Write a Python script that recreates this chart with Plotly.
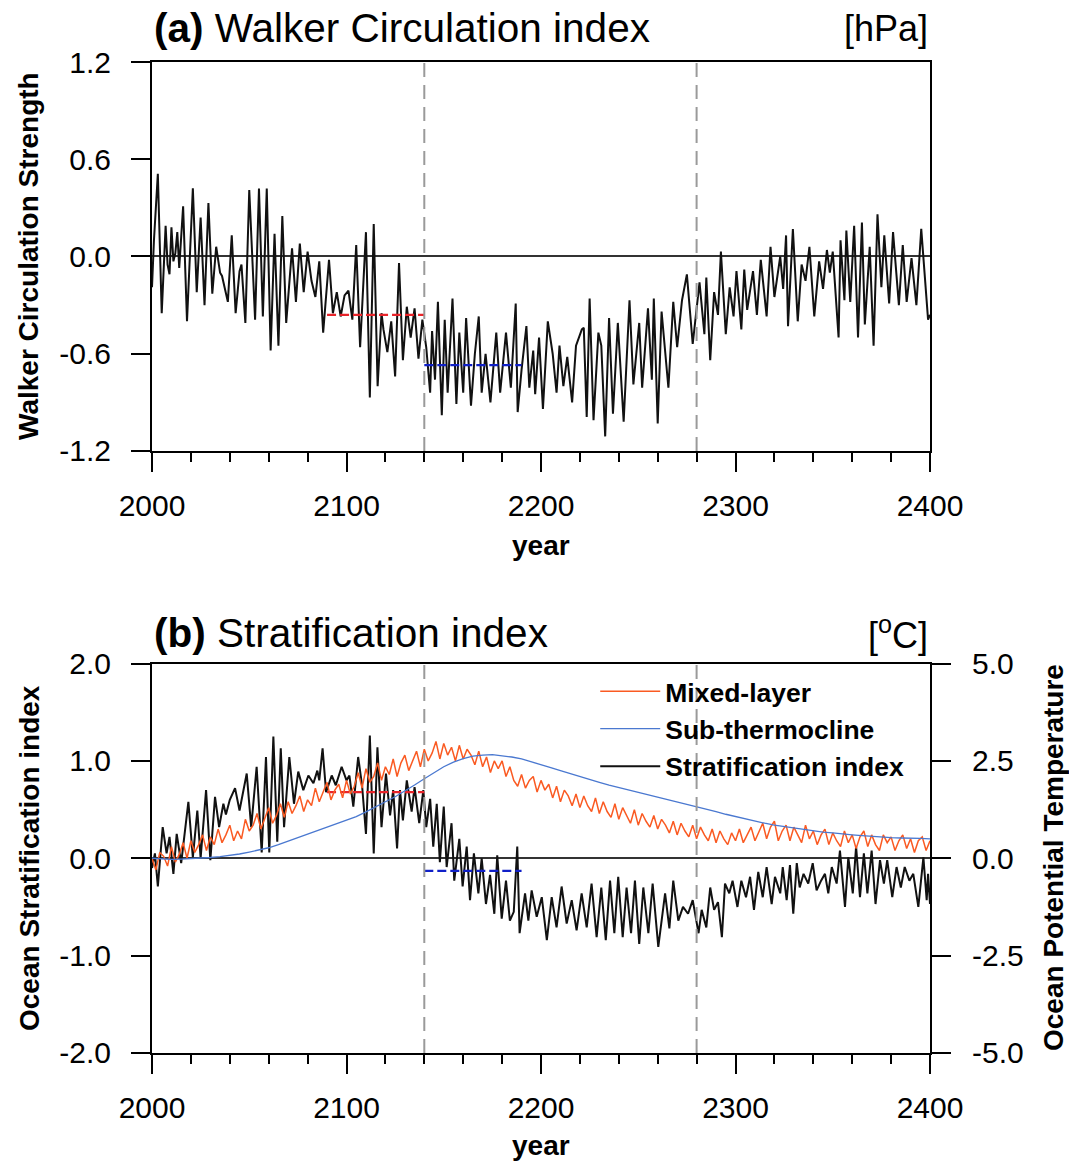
import plotly.graph_objects as go

# ---------------- data ----------------
walker_year = [2000, 2001, 2003, 2005, 2007, 2008, 2009, 2010, 2011, 2012, 2013, 2014, 2016, 2018, 2021, 2023, 2025, 2027, 2029, 2031,
               2033, 2035, 2036, 2039, 2041, 2043, 2045, 2046, 2048, 2050, 2053, 2055, 2057, 2059, 2061, 2063, 2065, 2067, 2069, 2072,
               2074, 2076, 2078, 2080, 2082, 2084, 2086, 2088, 2091, 2093, 2095, 2097, 2099, 2101, 2103, 2105, 2107, 2110, 2112, 2114,
               2116, 2118, 2119, 2121, 2123, 2125, 2127, 2129, 2131, 2133, 2135, 2137, 2139, 2141, 2143, 2144, 2145.5, 2147, 2149, 2150.5,
               2152, 2154.5, 2156.5, 2158, 2160, 2161.5, 2164, 2166, 2168, 2169.5, 2171.5, 2174, 2177, 2179, 2182, 2184.5, 2187, 2188, 2190, 2192.5,
               2194, 2196, 2197, 2199, 2201, 2203.5, 2206, 2208, 2209.5, 2211.5, 2213.5, 2216, 2218, 2221, 2222, 2223.5, 2225, 2227, 2229.5, 2231,
               2233, 2235, 2237, 2239.5, 2242.5, 2245.5, 2247.5, 2250.5, 2252, 2255, 2257, 2258, 2260, 2262, 2265.5, 2268, 2270, 2272.5, 2275, 2278,
               2281.5, 2284, 2285, 2287, 2289, 2291, 2292.5, 2295, 2297, 2299, 2300.5, 2303, 2304.5, 2306, 2309, 2311, 2313, 2316, 2318, 2320,
               2323, 2324.5, 2326, 2327, 2329.5, 2332, 2334, 2336, 2338, 2340.5, 2343, 2345, 2347, 2348.5, 2350, 2353, 2354, 2356, 2357, 2359,
               2361, 2363, 2365, 2366.5, 2369, 2371, 2373, 2375, 2376.5, 2379, 2381, 2384, 2386, 2388, 2390.5, 2393, 2395.5, 2397, 2399, 2400]
walker_val = [-0.19, 0.10, 0.51, -0.35, 0.19, -0.05, -0.11, 0.18, -0.03, 0.02, 0.15, -0.07, 0.31, -0.40, 0.42, -0.22, 0.24, -0.30, 0.33, -0.23,
              0.06, -0.10, -0.12, -0.28, 0.13, -0.35, -0.09, -0.05, -0.41, 0.41, -0.39, 0.42, -0.37, 0.42, -0.58, 0.14, -0.55, 0.25, -0.41, 0.05,
              -0.28, 0.08, -0.22, 0.03, -0.15, -0.25, -0.03, -0.47, -0.02, -0.35, -0.22, -0.37, -0.24, -0.21, -0.39, 0.07, -0.56, 0.15, -0.87, 0.20,
              -0.80, -0.35, -0.45, -0.59, -0.40, -0.74, -0.04, -0.64, -0.31, -0.50, -0.32, -0.63, -0.39, -0.56, -0.84, -0.46, -0.76, -0.28, -0.98, -0.39,
              -0.84, -0.26, -0.91, -0.47, -0.84, -0.38, -0.92, -0.60, -0.37, -0.84, -0.60, -0.90, -0.47, -0.84, -0.47, -0.81, -0.29, -0.96, -0.70, -0.43,
              -0.81, -0.58, -0.85, -0.50, -0.94, -0.40, -0.60, -0.84, -0.55, -0.80, -0.62, -0.90, -0.55, -0.45, -0.44, -0.99, -0.26, -1.01, -0.47, -0.55,
              -1.11, -0.38, -0.97, -0.41, -1.02, -0.27, -0.79, -0.41, -0.81, -0.32, -0.76, -0.26, -1.03, -0.34, -0.81, -0.28, -0.56, -0.27, -0.11, -0.54,
              -0.16, -0.48, -0.13, -0.64, -0.22, -0.36, 0.03, -0.48, -0.19, -0.37, -0.09, -0.45, -0.08, -0.33, -0.09, -0.36, -0.02, -0.37, 0.06, -0.25,
              0.00, -0.20, 0.13, -0.43, 0.17, -0.40, -0.05, -0.15, 0.06, -0.37, -0.03, -0.20, 0.04, -0.10, 0.03, -0.50, 0.10, -0.27, 0.16, -0.28,
              0.19, -0.50, 0.21, -0.42, 0.06, -0.55, 0.26, -0.19, 0.13, -0.29, 0.15, -0.30, 0.07, -0.28, -0.01, -0.30, 0.17, -0.05, -0.39, -0.36]

strat_year = [2000, 2001.5, 2003, 2005.5, 2007.5, 2009, 2011, 2012.7, 2015, 2018.7, 2021, 2023.3, 2025, 2027.8, 2030, 2032.4, 2034.5, 2036.7, 2038, 2040,
              2042.7, 2045, 2048.7, 2051, 2053.8, 2056.4, 2058.6, 2060.3, 2062.4, 2064.4, 2066.2, 2067.9, 2070.6, 2073, 2075.2, 2077.8, 2080.4, 2083, 2085, 2086,
              2087.7, 2089.5, 2092.4, 2094.5, 2097.5, 2100, 2101.5, 2103.5, 2106, 2108, 2110, 2112, 2114, 2115.9, 2118, 2120.3, 2122.4, 2124, 2126, 2127.5,
              2129, 2131, 2133.5, 2135, 2137.4, 2139.5, 2141, 2143, 2144.6, 2146.4, 2148, 2150, 2151.5, 2154, 2155.4, 2158, 2159.7, 2161.8, 2163.5, 2165.5,
              2167.8, 2169.5, 2171.7, 2173.8, 2176, 2177.5, 2179.8, 2182, 2184, 2186, 2187.8, 2189, 2191.8, 2193.5, 2195.2, 2197.8, 2200.4, 2203, 2205.5, 2208,
              2210.6, 2213.2, 2215.8, 2218.3, 2220.9, 2223.5, 2226, 2228.6, 2231, 2233.3, 2235.5, 2237.7, 2239.7, 2242, 2244, 2246.3, 2248.3, 2250.5, 2252.6, 2255.2,
              2257.4, 2260.3, 2263.8, 2266, 2268, 2270.6, 2273, 2275.6, 2278, 2281, 2282.6, 2285, 2287, 2289, 2291, 2293, 2294.6, 2296.8, 2298.5, 2301,
              2303, 2305.4, 2307.5, 2309.5, 2311.7, 2314, 2316, 2318.6, 2320.3, 2323, 2324.3, 2326.3, 2328, 2329.7, 2331.5, 2333, 2335, 2337.4, 2339.7, 2341.7,
              2344, 2346, 2347.7, 2349.5, 2352, 2353.7, 2356.3, 2358, 2360.3, 2362, 2364, 2366, 2367.8, 2370, 2372, 2374.3, 2376.3, 2378, 2380.6, 2382.8,
              2385, 2387, 2389.4, 2391.4, 2394, 2396.6, 2398.3, 2399, 2400]
strat_val = [-0.10, 0.05, -0.29, 0.32, 0.05, 0.22, -0.16, 0.25, -0.05, 0.58, 0.01, 0.49, 0.00, 0.70, -0.02, 0.63, 0.32, 0.56, 0.45, 0.60,
             0.72, 0.49, 0.87, 0.32, 0.94, 0.06, 1.04, 0.06, 1.25, 0.17, 1.13, 0.32, 1.04, 0.56, 0.89, 0.70, 0.85, 0.77, 0.90, 0.80,
             1.13, 0.68, 0.85, 0.75, 0.94, 0.80, 0.85, 0.53, 1.04, 0.75, 0.25, 1.26, 0.05, 1.14, 0.32, 0.87, 0.44, 0.70, 0.10, 0.70,
             0.39, 0.80, 0.48, 0.73, 0.36, 0.70, 0.32, 0.61, 0.12, 0.56, -0.04, 0.53, -0.09, 0.36, -0.23, 0.20, -0.29, 0.12, -0.43, 0.05,
             -0.36, 0.00, -0.47, -0.17, -0.57, 0.03, -0.62, -0.23, -0.64, -0.55, 0.12, -0.77, -0.36, -0.64, -0.33, -0.60, -0.40, -0.84, -0.40, -0.71,
             -0.29, -0.67, -0.43, -0.74, -0.36, -0.71, -0.26, -0.81, -0.30, -0.84, -0.23, -0.77, -0.19, -0.81, -0.30, -0.77, -0.23, -0.88, -0.30, -0.77,
             -0.26, -0.91, -0.36, -0.72, -0.23, -0.64, -0.50, -0.57, -0.43, -0.77, -0.53, -0.71, -0.30, -0.53, -0.45, -0.81, -0.26, -0.36, -0.23, -0.50,
             -0.23, -0.40, -0.19, -0.53, -0.14, -0.40, -0.09, -0.47, -0.19, -0.36, -0.09, -0.43, -0.07, -0.57, -0.05, -0.30, -0.16, -0.26, -0.05, -0.33,
             -0.23, -0.16, -0.36, -0.09, -0.26, 0.08, -0.50, 0.01, -0.36, 0.12, -0.40, 0.05, -0.36, 0.08, -0.47, -0.02, -0.26, -0.02, -0.40, -0.09,
             -0.30, -0.09, -0.23, -0.16, -0.50, 0.01, -0.43, -0.16, -0.47]

mixed_year = list(range(2000, 2401, 2))
mixed_val = [0.0, -0.3, 0.15, 0.05, -0.2,
             0.3, -0.1, 0.1, 0.4, 0.0,
             0.45, 0.15, 0.35, 0.6, 0.2,
             0.55, 0.35, 0.75, 0.4, 0.6,
             0.85, 0.45, 0.7, 0.5, 1.0,
             0.7, 0.85, 1.15, 0.75, 1.05,
             1.3, 0.9, 1.1, 1.4, 1.05,
             1.45, 1.15, 1.35, 1.6, 1.2,
             1.5, 1.35, 1.8, 1.45, 1.7,
             1.95, 1.5, 1.75, 1.9, 1.55,
             2.0, 1.65, 1.85, 2.2, 1.8,
             2.3, 1.95, 2.1, 2.45, 2.0,
             2.35, 2.15, 2.55, 2.1, 2.45,
             2.65, 2.25, 2.5, 2.75, 2.35,
             2.8, 2.5, 2.7, 3.0, 2.55,
             2.95, 2.65, 2.85, 2.5, 2.9,
             2.55, 2.8, 2.65, 2.4, 2.75,
             2.35, 2.6, 2.2, 2.5, 2.3,
             2.5, 2.1, 2.35, 2.0, 1.85,
             2.15, 1.8, 2.0, 2.1, 1.7,
             2.0, 1.75, 1.9, 1.55, 1.85,
             1.45, 1.75, 1.6, 1.35, 1.65,
             1.3, 1.6, 1.35, 1.2, 1.55,
             1.15, 1.45, 1.2, 1.05, 1.4,
             1.0, 1.3, 1.1, 0.9, 1.25,
             0.85, 1.15, 0.95, 0.8, 1.1,
             0.75, 1.0, 0.85, 0.65, 0.95,
             0.6, 0.9, 0.7, 0.55, 0.85,
             0.5, 0.8, 0.6, 0.45, 0.75,
             0.4, 0.7, 0.5, 0.35, 0.65,
             0.45, 0.75, 0.4, 0.6, 0.8,
             0.45, 0.7, 0.9, 0.5, 0.8,
             0.95, 0.45, 0.7, 0.85, 0.45,
             0.8, 0.6, 0.4, 0.85, 0.5,
             0.7, 0.35, 0.6, 0.75, 0.35,
             0.65, 0.45, 0.3, 0.7, 0.4,
             0.6, 0.25, 0.55, 0.7, 0.3,
             0.6, 0.35, 0.2, 0.6, 0.4,
             0.55, 0.2, 0.45, 0.6, 0.25,
             0.5, 0.15, 0.45, 0.55, 0.2,
             0.45]

sub_year = list(range(2000, 2401, 5))
sub_val = [0.0, -0.02, -0.03, -0.02, -0.01, 0.0, 0.02, 0.04, 0.07, 0.11,
           0.16, 0.21, 0.27, 0.35, 0.44, 0.52, 0.6, 0.69, 0.78, 0.87,
           0.96, 1.07, 1.19, 1.31, 1.45, 1.58, 1.72, 1.88, 2.04, 2.2,
           2.35, 2.47, 2.56, 2.62, 2.65, 2.66, 2.63, 2.6, 2.55, 2.48,
           2.41, 2.33, 2.25, 2.17, 2.1, 2.02, 1.95, 1.88, 1.82, 1.76,
           1.7, 1.64, 1.58, 1.51, 1.45, 1.39, 1.33, 1.26, 1.2, 1.13,
           1.07, 1.01, 0.95, 0.9, 0.85, 0.81, 0.78, 0.74, 0.7, 0.67,
           0.65, 0.62, 0.6, 0.58, 0.56, 0.54, 0.53, 0.52, 0.52, 0.51,
           0.5]

period_before = [2090, 2140]
period_after = [2140, 2190]
walker_mean_before = [-0.36, -0.36]
walker_mean_after = [-0.67, -0.67]
strat_mean_before = [0.68, 0.68]
strat_mean_after = [-0.13, -0.13]
marker_years = [2140, 2280]

x_ticks = [2000, 2100, 2200, 2300, 2400]
x_ticktext = ["2000", "2100", "2200", "2300", "2400"]
ya_ticks = [1.2, 0.6, 0.0, -0.6, -1.2]
ya_ticktext = ["1.2", "0.6", "0.0", "-0.6", "-1.2"]
yb_ticks = [2.0, 1.0, 0.0, -1.0, -2.0]
yb_ticktext = ["2.0", "1.0", "0.0", "-1.0", "-2.0"]
yr_ticks = [5.0, 2.5, 0.0, -2.5, -5.0]
yr_ticktext = ["5.0", "2.5", "0.0", "-2.5", "-5.0"]

# ---------------- figure ----------------
FONT = "Liberation Sans, Arial, Helvetica, sans-serif"
BLACK = "#111111"
ORANGE = "#fa5a22"
BLUE = "#4a78d0"
RED = "#e8242a"
DBLUE = "#1020c8"

fig = go.Figure()

# panel (a)
fig.add_trace(go.Scatter(x=walker_year, y=walker_val, mode="lines", line=dict(color=BLACK, width=2),
                         xaxis="x", yaxis="y", showlegend=False))
fig.add_trace(go.Scatter(x=period_before, y=walker_mean_before, mode="lines",
                         line=dict(color=RED, width=2.2, dash="9px,4px"), xaxis="x", yaxis="y", showlegend=False))
fig.add_trace(go.Scatter(x=period_after, y=walker_mean_after, mode="lines",
                         line=dict(color=DBLUE, width=2.2, dash="9px,4px"), xaxis="x", yaxis="y", showlegend=False))

# panel (b)
fig.add_trace(go.Scatter(x=strat_year, y=strat_val, mode="lines", name="<b>Stratification index</b>",
                         line=dict(color=BLACK, width=2), xaxis="x2", yaxis="y2",
                         legendrank=3, legendgroup="c"))
fig.add_trace(go.Scatter(x=period_before, y=strat_mean_before, mode="lines",
                         line=dict(color=RED, width=2.2, dash="9px,4px"), xaxis="x2", yaxis="y2", showlegend=False))
fig.add_trace(go.Scatter(x=period_after, y=strat_mean_after, mode="lines",
                         line=dict(color=DBLUE, width=2.2, dash="9px,4px"), xaxis="x2", yaxis="y2", showlegend=False))
fig.add_trace(go.Scatter(x=mixed_year, y=mixed_val, mode="lines", name="<b>Mixed-layer</b>",
                         line=dict(color=ORANGE, width=1.5), xaxis="x2", yaxis="y3",
                         legendrank=1, legendgroup="a"))
fig.add_trace(go.Scatter(x=sub_year, y=sub_val, mode="lines", name="<b>Sub-thermocline</b>",
                         line=dict(color=BLUE, width=1.3), xaxis="x2", yaxis="y3",
                         legendrank=2, legendgroup="b"))

# vertical dashed markers
for yr in marker_years:
    for xr, yr_ref in (("x", "y domain"), ("x2", "y2 domain")):
        fig.add_shape(type="line", xref=xr, yref=yr_ref, x0=yr, x1=yr, y0=0, y1=1,
                      line=dict(color="#9a9a9a", width=2, dash="14px,8px"), layer="above")

axis_common = dict(showline=True, linewidth=2, linecolor="black", ticks="outside", ticklen=19,
                   tickwidth=1.5, tickcolor="black", showgrid=False,
                   tickfont=dict(family=FONT, size=30, color="black"))

xa = dict(axis_common, range=[2000, 2400], tickvals=x_ticks, ticktext=x_ticktext, mirror=True,
          zeroline=False, ticklabelstandoff=8,
          minor=dict(dtick=20, tick0=2000, ticks="outside", ticklen=9, tickwidth=1.5, tickcolor="black", showgrid=False))

fig.update_layout(
    width=1069, height=1163,
    margin=dict(l=152, r=139, t=62, b=110),
    paper_bgcolor="white", plot_bgcolor="white",
    font=dict(family=FONT, color="black"),
    xaxis=dict(xa, domain=[0, 1], anchor="y"),
    xaxis2=dict(xa, domain=[0, 1], anchor="y2"),
    yaxis=dict(axis_common, domain=[0.6075, 1], range=[-1.2, 1.2], tickvals=ya_ticks, ticktext=ya_ticktext,
               mirror=True, zeroline=True, zerolinecolor="#333333", zerolinewidth=1.5, anchor="x",
               ticklabelstandoff=14),
    yaxis2=dict(axis_common, domain=[0, 0.393], range=[-2, 2], tickvals=yb_ticks, ticktext=yb_ticktext,
                mirror=True, zeroline=True, zerolinecolor="#333333", zerolinewidth=1.5, anchor="x2",
                ticklabelstandoff=14),
    yaxis3=dict(axis_common, overlaying="y2", side="right", range=[-5, 5], tickvals=yr_ticks,
                ticktext=yr_ticktext, zeroline=False, anchor="x2", ticklabelstandoff=15),
    legend=dict(x=0.5697, y=0.389, xanchor="left", yanchor="top", bgcolor="rgba(0,0,0,0)",
                font=dict(family=FONT, size=26.5, color="black"), traceorder="grouped",
                tracegroupgap=0, itemwidth=60),
    showlegend=True,
)

def ypix(p):
    return (1053 - p) / 991

ann = [
    dict(text="<b>(a)</b> Walker Circulation index", x=0, y=ypix(28), xanchor="left", yanchor="middle", font_size=40.5),
    dict(text="[hPa]", x=1, y=ypix(28), xanchor="right", yanchor="middle", font_size=36),
    dict(text="<b>(b)</b> Stratification index", x=0, y=ypix(633), xanchor="left", yanchor="middle", font_size=40.5),
    dict(text="[<sup>o</sup>C]", x=1, y=ypix(633), xanchor="right", yanchor="middle", font_size=36),
    dict(text="<b>year</b>", x=0.5, y=ypix(545), xanchor="center", yanchor="middle", font_size=28),
    dict(text="<b>year</b>", x=0.5, y=ypix(1145), xanchor="center", yanchor="middle", font_size=28),
    dict(text="<b>Walker Circulation Strength</b>", x=(28 - 152) / 778, y=ypix(256), textangle=-90,
         xanchor="center", yanchor="middle", font_size=28),
    dict(text="<b>Ocean Stratification index</b>", x=(29 - 152) / 778, y=ypix(858), textangle=-90,
         xanchor="center", yanchor="middle", font_size=28),
    dict(text="<b>Ocean Potential Temperature</b>", x=(1053 - 152) / 778, y=ypix(858), textangle=-90,
         xanchor="center", yanchor="middle", font_size=28),
]
for a in ann:
    fs = a.pop("font_size")
    fig.add_annotation(xref="paper", yref="paper", showarrow=False,
                       font=dict(family=FONT, size=fs, color="black"), **a)

fig.write_html("out.html")
